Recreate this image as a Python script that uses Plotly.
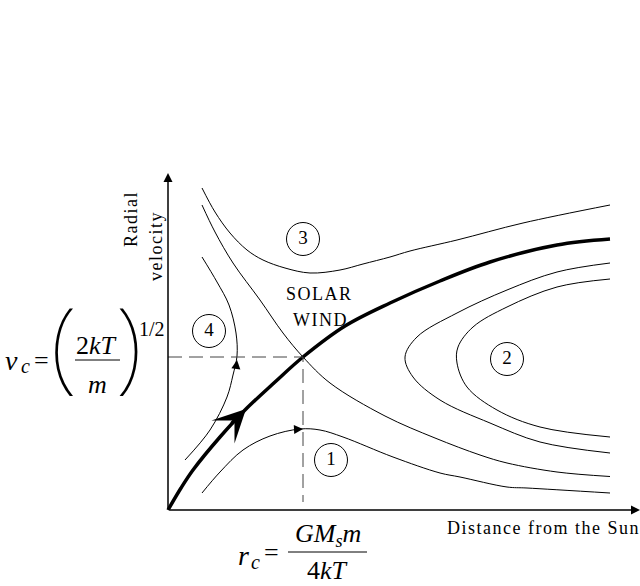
import plotly.graph_objects as go

# units: arbitrary schematic units (r_c = 1.35, v_c = 1.53)
R_C = 1.35
V_C = 1.53

wind_r = [0, 0.13, 0.25, 0.52, 0.77, 1.07, 1.35, 1.77, 2.22, 2.72, 3.22, 3.89, 4.42]
wind_v = [0, 0.22, 0.40, 0.73, 1.00, 1.28, 1.53, 1.84, 2.07, 2.29, 2.48, 2.65, 2.71]

c3_r = [0.34, 0.47, 0.62, 0.79, 0.95, 1.17, 1.42, 1.72, 1.95, 2.22, 2.42, 2.89, 3.55, 4.42]
c3_v = [3.22, 2.98, 2.77, 2.60, 2.50, 2.42, 2.37, 2.40, 2.46, 2.53, 2.59, 2.70, 2.87, 3.05]

sep_r = [0.34, 0.47, 0.65, 0.92, 1.15, 1.35, 1.62, 2.17, 2.67, 3.12, 3.39, 3.89, 4.42]
sep_v = [3.05, 2.78, 2.47, 2.10, 1.77, 1.53, 1.27, 0.94, 0.72, 0.55, 0.47, 0.38, 0.335]

c1_r = [0.34, 0.52, 0.75, 1.02, 1.32, 1.52, 1.75, 2.25, 2.72, 2.92, 3.39, 3.59, 4.42]
c1_v = [0.17, 0.38, 0.60, 0.74, 0.81, 0.80, 0.73, 0.53, 0.37, 0.33, 0.23, 0.22, 0.17]

c4_r = [0.17, 0.42, 0.59, 0.65, 0.69, 0.68, 0.61, 0.49, 0.34]
c4_v = [0.50, 0.80, 1.13, 1.35, 1.54, 1.77, 2.05, 2.28, 2.53]

c2o_r = [4.42, 3.89, 3.39, 2.89, 2.49, 2.37, 2.45, 2.72, 3.22, 3.72, 4.42]
c2o_v = [2.47, 2.38, 2.20, 1.97, 1.73, 1.53, 1.33, 1.10, 0.87, 0.68, 0.57]

c2i_r = [4.42, 3.89, 3.39, 3.05, 2.90, 2.89, 2.99, 3.29, 3.72, 4.42]
c2i_v = [2.31, 2.23, 2.03, 1.83, 1.63, 1.47, 1.23, 1.00, 0.83, 0.73]

# flow-direction arrow heads: (tail r, tail v, tip r, tip v)
wind_arrow = (0.62, 0.85, 0.78, 1.01)
c4_arrow = (0.68, 1.42, 0.69, 1.50)
c1_arrow = (1.25, 0.805, 1.35, 0.81)

region_labels = ["1", "2", "3", "4"]
region_r = [1.63, 3.39, 1.35, 0.41]
region_v = [0.50, 1.51, 2.71, 1.79]

SERIF = "Liberation Serif, Times New Roman, serif"
HS = "\u200a"  # hair space, mimics the wide tracking of the original lettering


def spaced(s):
    return HS.join(list(s))


fig = go.Figure()


def curve(x, y, w=1.0):
    fig.add_trace(go.Scatter(x=x, y=y, mode="lines",
                             line=dict(color="black", width=w, shape="spline", smoothing=1.0),
                             hoverinfo="skip", showlegend=False))


for x, y in [(c3_r, c3_v), (sep_r, sep_v), (c1_r, c1_v), (c4_r, c4_v),
             (c2o_r, c2o_v), (c2i_r, c2i_v)]:
    curve(x, y, 1.0)
curve(wind_r, wind_v, 3.5)

# dashed critical lines
fig.add_trace(go.Scatter(x=[0, R_C, R_C], y=[V_C, V_C, 0.08], mode="lines",
                         line=dict(color="#444", width=1, dash="14px,7px"),
                         hoverinfo="skip", showlegend=False))

fig.add_trace(go.Scatter(x=region_r, y=region_v, mode="markers+text",
                         text=region_labels, textposition="middle center",
                         textfont=dict(family=SERIF, size=19, color="black"),
                         marker=dict(symbol="circle-open", size=33,
                                     color="black", line=dict(width=1, color="black")),
                         hoverinfo="skip", showlegend=False))

ann = []


def arrow(tail_x, tail_y, tip_x, tip_y, head, size, width):
    ann.append(dict(x=tip_x, y=tip_y, ax=tail_x, ay=tail_y, axref="x", ayref="y",
                    xref="x", yref="y", text="", showarrow=True, arrowhead=head,
                    arrowsize=size, arrowwidth=width, arrowcolor="black"))


# axes
arrow(0, 0, 0, 3.37, 2, 1.2, 1.5)
arrow(0, 0, 4.72, 0, 2, 1.2, 1.5)
# flow arrows
arrow(*wind_arrow, 3, 1.55, 3.5)
arrow(*c4_arrow, 2, 1.8, 1)
arrow(*c1_arrow, 2, 1.8, 1)


def txt(x, y, t, size=19, angle=0, family=SERIF, weight=None):
    f = dict(family=family, size=size, color="black")
    if weight is not None:
        f["weight"] = weight
    ann.append(dict(x=x, y=y, xref="x", yref="y", text=t, showarrow=False,
                    textangle=angle, xanchor="center", yanchor="middle", font=f))


txt(3.753, -0.175, spaced("Distance from the Sun"), 18)
txt(-0.37, 2.90, spaced("Radial"), 18, -90)
txt(-0.12, 2.63, spaced("velocity"), 18, -90)
txt(1.503, 2.16, spaced("SOLAR"), 18)
txt(1.515, 1.90, spaced("WIND"), 18)

# v_c formula
PAREN = "Noto Sans, DejaVu Sans, sans-serif"
txt(-1.57, 1.50, "<i>v</i>", 28)
txt(-1.43, 1.44, "<i>c</i>", 20)
txt(-1.265, 1.50, "=", 26)
txt(-1.045, 1.69, "(", 100, family=PAREN, weight=100)
txt(-0.395, 1.69, ")", 100, family=PAREN, weight=100)
txt(-0.715, 1.65, "2<i>kT</i>", 26)
txt(-0.705, 1.26, "<i>m</i>", 26)
txt(-0.16, 1.81, "1/2", 20)

# r_c formula
txt(0.755, -0.45, "<i>r</i>", 28)
txt(0.87, -0.52, "<i>c</i>", 20)
txt(1.035, -0.42, "=", 26)
txt(1.595, -0.25, "<i>GM<sub>s</sub>m</i>", 26)
txt(1.595, -0.60, "4<i>kT</i>", 26)

shapes = [
    dict(type="line", xref="x", yref="y", x0=-0.93, x1=-0.48, y0=1.50, y1=1.50,
         line=dict(color="black", width=1)),
    dict(type="line", xref="x", yref="y", x0=1.20, x1=1.99, y0=-0.42, y1=-0.42,
         line=dict(color="black", width=1)),
]

fig.update_layout(
    width=640, height=586,
    margin=dict(l=0, r=0, t=0, b=0),
    paper_bgcolor="white", plot_bgcolor="white",
    xaxis=dict(range=[-1.68, 4.72], visible=False, fixedrange=True),
    yaxis=dict(range=[-0.76, 5.10], visible=False, fixedrange=True),
    annotations=ann, shapes=shapes,
    showlegend=False,
)

fig.write_html("out.html", config={"displayModeBar": False},
               post_script="document.body.style.margin='0';document.body.style.overflow='hidden';")
